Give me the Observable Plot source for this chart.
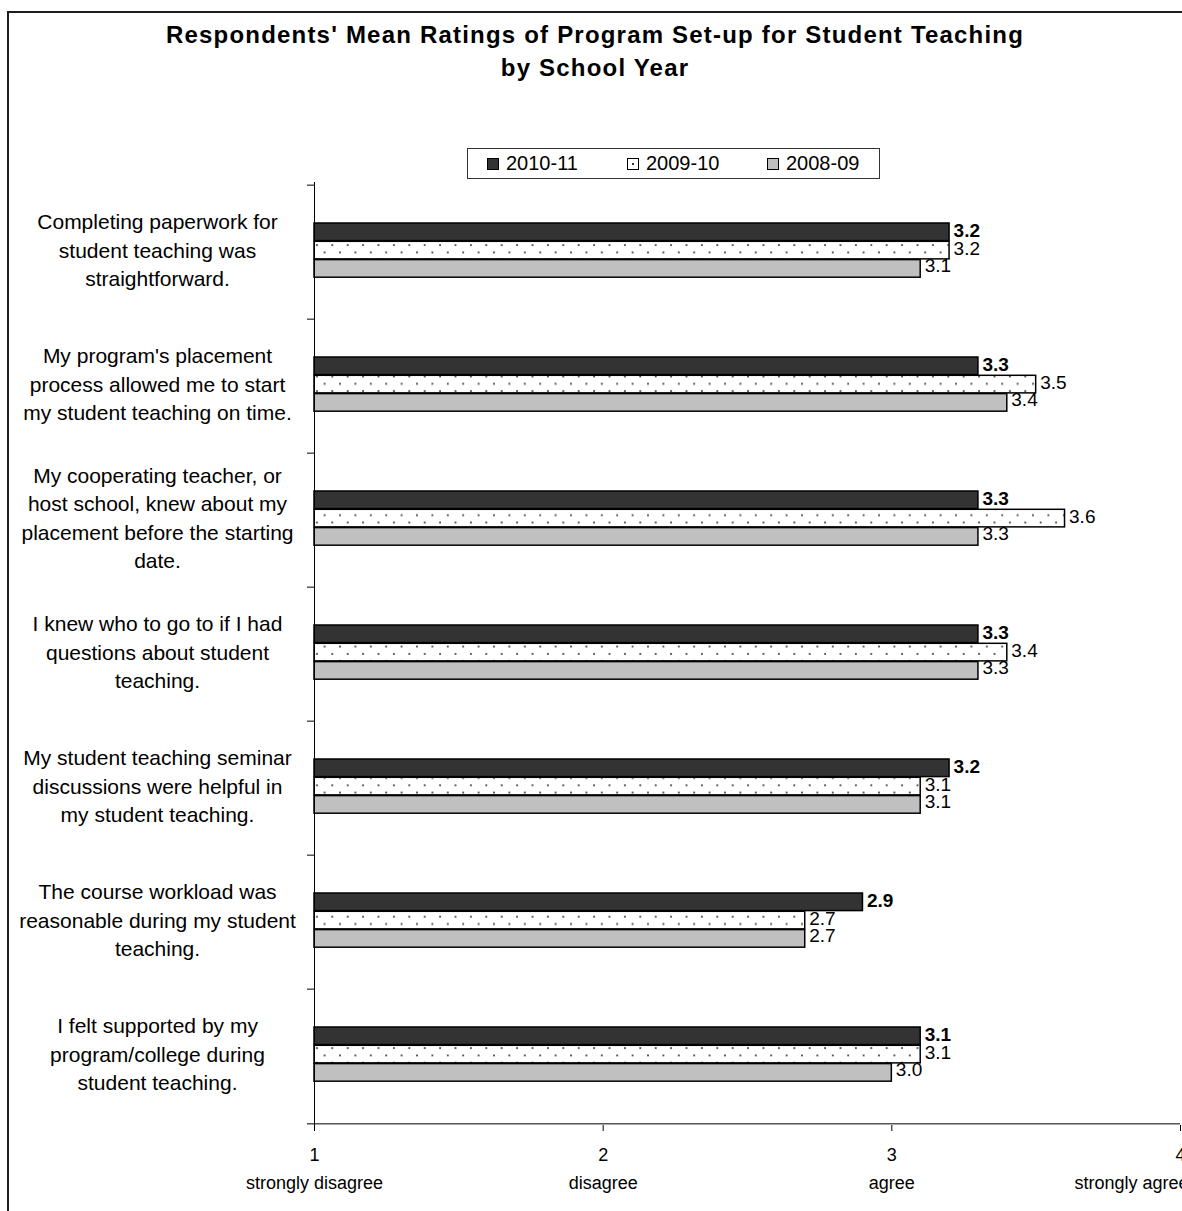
<!DOCTYPE html>
<html>
<head>
<meta charset="utf-8">
<script src="https://cdn.jsdelivr.net/npm/d3@7"></script>
<script src="https://cdn.jsdelivr.net/npm/@observablehq/plot@0.6"></script>
<style>
  html, body { margin: 0; padding: 0; background: #fff; overflow: hidden; }
  body { width: 1182px; height: 1211px; position: relative; font-family: "Liberation Sans", Arial, sans-serif; }
  #frame { position: absolute; left: 7px; top: 11px; width: 1300px; height: 1300px; border: 2px solid #1e1e1e; box-sizing: border-box; pointer-events: none; }
  #title { position: absolute; left: 0; top: 18px; width: 1190px; text-align: center; font-weight: bold; font-size: 24px; letter-spacing: 1.2px; line-height: 33px; color: #000; }
  #legend { position: absolute; left: 467px; top: 148px; width: 413px; height: 31px; box-sizing: border-box; border: 1px solid #333; display: flex; align-items: center; font-size: 20px; color: #000; }
  .item { position: absolute; display: flex; align-items: center; }
  .sw { width: 12px; height: 12px; border: 1px solid #000; margin-right: 7px; box-sizing: border-box; position: relative; }
  #chart { position: absolute; left: 0; top: 140px; }
  g[aria-label="statements"] text { letter-spacing: 1.1px; }
  g[aria-label="scale names"] text, g[aria-label="scale names end"] text { letter-spacing: 0.3px; }
</style>
</head>
<body>
<div id="frame"></div>
<div id="title">Respondents' Mean Ratings of Program Set-up for Student Teaching<br>by School Year</div>
<div id="legend"></div>
<div id="chart"></div>
<script>
// Survey statements (one per band, top to bottom)
const categories = [
  "Completing paperwork for\nstudent teaching was\nstraightforward.",
  "My program's placement\nprocess allowed me to start\nmy student teaching on time.",
  "My cooperating teacher, or\nhost school, knew about my\nplacement before the starting\ndate.",
  "I knew who to go to if I had\nquestions about student\nteaching.",
  "My student teaching seminar\ndiscussions were helpful in\nmy student teaching.",
  "The course workload was\nreasonable during my student\nteaching.",
  "I felt supported by my\nprogram/college during\nstudent teaching."
];

// School years, in bar order within each group
const years = ["2010-11", "2009-10", "2008-09"];

// Mean ratings per school year
const ratings2010 = [3.2, 3.3, 3.3, 3.3, 3.2, 2.9, 3.1];
const ratings2009 = [3.2, 3.5, 3.6, 3.4, 3.1, 2.7, 3.1];
const ratings2008 = [3.1, 3.4, 3.3, 3.3, 3.1, 2.7, 3.0];

// Rating scale
const scaleTicks = [1, 2, 3, 4];
const scaleNames = ["strongly disagree", "disagree", "agree", "strongly agree"];

const seriesValues = [ratings2010, ratings2009, ratings2008];
const rows = years.flatMap((year, s) =>
  categories.map((category, i) => ({year, category, value: seriesValues[s][i]}))
);

// Bar fills per year
const fills = ["#333333", "url(#dots)", "#c0c0c0"];

// Layout
const width = 1182, height = 1071;
const marginTop = 42, marginBottom = 86, marginLeft = 314, marginRight = 2;
const band = (height - marginTop - marginBottom) / categories.length;
const groupOffset = 38;     // gap between band top and first bar
const barH = 18.3;          // height of one bar
const labelShift = [-21.5, -4, 13.5];

const marks = [];

// Bars, one mark per school year, stacked inside each category band
years.forEach((year, s) => {
  const top = groupOffset + barH * s;
  marks.push(Plot.barX(rows.filter(d => d.year === year), {
    x1: 1, x2: "value", y: "category",
    fill: fills[s], stroke: "#000", strokeWidth: 1.5,
    insetTop: top, insetBottom: band - top - barH
  }));
});

// Value labels
years.forEach((year, s) => {
  marks.push(Plot.text(rows.filter(d => d.year === year), {
    x: "value", y: "category",
    text: d => d.value.toFixed(1),
    textAnchor: "start", dx: 4, dy: labelShift[s],
    fontSize: 19, fontWeight: s === 0 ? "bold" : "normal", fill: "#000"
  }));
});

// Category axis: line, ticks between bands, wrapped labels
marks.push(Plot.ruleX([1], {stroke: "#000", strokeWidth: 1}));
marks.push(Plot.ruleY(categories, {y: d => d, dy: -band / 2, insetLeft: -7, insetRight: width - marginLeft - marginRight, stroke: "#000"}));
marks.push(Plot.ruleY(categories.slice(-1), {y: d => d, dy: band / 2, insetLeft: -7, stroke: "#000"}));
marks.push(Plot.text(categories, {
  y: d => d, text: d => d, frameAnchor: "left", dx: -157, dy: -4,
  textAnchor: "middle", lineAnchor: "middle", lineHeight: 1.36,
  fontSize: 21, fill: "#000", ariaLabel: "statements"
}));

// Rating axis with verbal anchors
marks.push(Plot.axisX(scaleTicks, {tickSize: 6, tickPadding: 17, fontSize: 18, tickFormat: d => String(d), stroke: "#000", label: null}));
marks.push(Plot.text(scaleTicks.slice(0, 3), {
  x: d => d, text: (d, i) => scaleNames[i], frameAnchor: "bottom", dy: 58,
  lineAnchor: "middle", fontSize: 18, fill: "#000", ariaLabel: "scale names"
}));
marks.push(Plot.text(scaleTicks.slice(3), {
  x: d => d, text: (d, i) => scaleNames[3 + i], frameAnchor: "bottom", dy: 58, dx: 8,
  textAnchor: "end", lineAnchor: "middle", fontSize: 18, fill: "#000", ariaLabel: "scale names end"
}));

const svg = Plot.plot({
  width, height, marginTop, marginBottom, marginLeft, marginRight,
  x: {domain: [1, 4], label: null},
  y: {domain: categories, padding: 0, axis: null},
  style: {fontFamily: "'Liberation Sans', Arial, sans-serif", color: "#000", background: "transparent", overflow: "visible"},
  marks
});

// Dotted fill pattern for the 2009-10 bars
svg.insertAdjacentHTML("afterbegin",
  `<defs><pattern id="dots" patternUnits="userSpaceOnUse" x="${marginLeft}" y="0" width="15.4" height="14.6">
     <rect width="15.4" height="14.6" fill="#fff"/>
     <rect x="2" y="2" width="1.8" height="1.8" fill="#444"/>
     <rect x="9.7" y="9.3" width="1.8" height="1.8" fill="#444"/>
   </pattern></defs>`);
document.getElementById("chart").appendChild(svg);

// Legend
const legend = document.getElementById("legend");
const legendX = [19, 159, 299];
years.forEach((year, s) => {
  const item = document.createElement("div");
  item.className = "item";
  item.style.left = legendX[s] + "px";
  const sw = document.createElement("div");
  sw.className = "sw";
  if (s === 1) {
    sw.style.background = "#fff";
    sw.innerHTML = '<div style="position:absolute;left:4px;top:4px;width:2px;height:2px;background:#333"></div>';
  } else {
    sw.style.background = fills[s];
  }
  const label = document.createElement("span");
  label.textContent = year;
  item.appendChild(sw);
  item.appendChild(label);
  legend.appendChild(item);
});
</script>
</body>
</html>
